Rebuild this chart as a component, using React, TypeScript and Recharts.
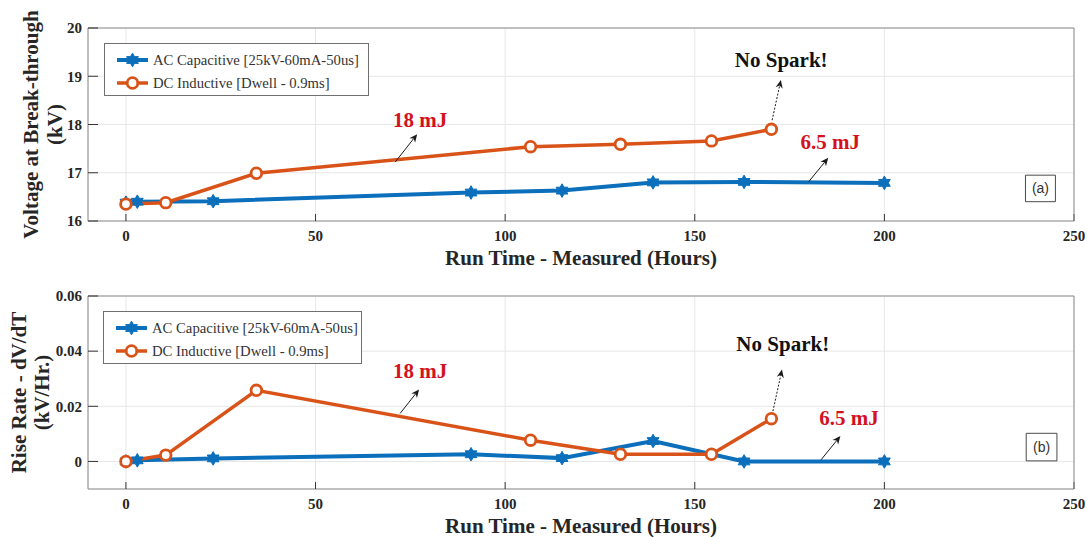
import React from 'react';
import {
  LineChart,
  Line,
  XAxis,
  YAxis,
  CartesianGrid,
  ReferenceLine,
  ReferenceDot,
  ReferenceArea,
  Legend,
} from 'recharts';

const SERIF = '"Liberation Serif", "Times New Roman", Times, serif';
const SANS = '"Liberation Sans", Arial, sans-serif';
const BLUE = '#0b6fbb';
const ORANGE = '#d95319';
const RED = '#d3121f';
const INK = '#262626';

// Run time (hours) of each measurement
const acHours = [0, 3, 23, 91, 115, 139, 163, 200];
const dcHours = [0, 10.5, 34.4, 106.7, 130.4, 154.4, 170.2];

// Break-through voltage (kV)
const acVoltage = [16.38, 16.4, 16.41, 16.59, 16.63, 16.8, 16.81, 16.79];
const dcVoltage = [16.35, 16.38, 16.99, 17.54, 17.59, 17.66, 17.9];

// Rise rate dV/dT (kV/Hr.)
const acRise = [0, 0.0004, 0.0011, 0.0026, 0.0012, 0.0074, 0, 0];
const dcRise = [0, 0.0023, 0.0258, 0.0077, 0.0026, 0.0026, 0.0155];

const xTicks = [0, 50, 100, 150, 200, 250];
const voltTicks = [16, 17, 18, 19, 20];
const riseTicks = [0, 0.02, 0.04, 0.06];

const seriesNames = ['AC Capacitive [25kV-60mA-50us]', 'DC Inductive [Dwell - 0.9ms]'];
const xTitleText = 'Run Time - Measured (Hours)';

type Note = { text: string; x: number; y: number; color: string };
type Arrow = { from: [number, number]; to: [number, number]; dotted: boolean };
type Tag = { text: string; x1: number; x2: number; y1: number; y2: number };

const voltNotes: Note[] = [
  { text: '18 mJ', x: 77.6, y: 18.1, color: RED },
  { text: 'No Spark!', x: 172.8, y: 19.33, color: '#111' },
  { text: '6.5 mJ', x: 185.7, y: 17.63, color: RED },
];
const voltArrows: Arrow[] = [
  { from: [71.0, 17.22], to: [76.8, 17.8], dotted: false },
  { from: [170.4, 18.09], to: [172.7, 18.92], dotted: true },
  { from: [180.0, 16.81], to: [185.2, 17.31], dotted: false },
];
const voltTag: Tag = { text: '(a)', x1: 237.2, x2: 245.1, y1: 16.4, y2: 16.95 };

const riseNotes: Note[] = [
  { text: '18 mJ', x: 77.6, y: 0.0327, color: RED },
  { text: 'No Spark!', x: 173.2, y: 0.0426, color: '#111' },
  { text: '6.5 mJ', x: 190.7, y: 0.0159, color: RED },
];
const riseArrows: Arrow[] = [
  { from: [72.3, 0.0174], to: [77.3, 0.0261], dotted: false },
  { from: [170.6, 0.0182], to: [173.0, 0.0333], dotted: true },
  { from: [183.3, 0.0006], to: [188.4, 0.0092], dotted: false },
];
const riseTag: Tag = { text: '(b)', x1: 237.4, x2: 245.5, y1: 0.0002, y2: 0.0102 };

const toPoints = (xs: number[], ys: number[]) => xs.map((t, i) => ({ t, v: ys[i] }));

const hexagramPoints = (cx: number, cy: number, R: number) => {
  const pts: string[] = [];
  for (let i = 0; i < 12; i++) {
    const r = i % 2 === 0 ? R : R / Math.sqrt(3);
    const a = -Math.PI / 2 + (i * Math.PI) / 6;
    pts.push(`${cx + r * Math.cos(a)},${cy + r * Math.sin(a)}`);
  }
  return pts.join(' ');
};

const hexDot = (props: any) => {
  const { cx, cy, index } = props;
  if (cx == null || cy == null) return <g key={`h${index}`} />;
  return (
    <polygon
      key={`h${index}`}
      points={hexagramPoints(cx, cy, 6.8)}
      fill={BLUE}
      stroke={BLUE}
      strokeWidth={1}
      strokeLinejoin="round"
    />
  );
};

const ringDot = (props: any) => {
  const { cx, cy, index } = props;
  if (cx == null || cy == null) return <g key={`c${index}`} />;
  return <circle key={`c${index}`} cx={cx} cy={cy} r={5.3} fill="#fff" stroke={ORANGE} strokeWidth={2.8} />;
};

const arrowShape = (dotted: boolean) => (p: any) => {
  const { x1, y1, x2, y2 } = p;
  const ang = Math.atan2(y2 - y1, x2 - x1);
  const L = 8;
  const W = 3.6;
  const bx = x2 - L * Math.cos(ang);
  const by = y2 - L * Math.sin(ang);
  const nx = -Math.sin(ang) * W;
  const ny = Math.cos(ang) * W;
  const mx = x2 - L * 0.7 * Math.cos(ang);
  const my = y2 - L * 0.7 * Math.sin(ang);
  return (
    <g>
      <line
        x1={x1}
        y1={y1}
        x2={mx}
        y2={my}
        stroke="#1a1a1a"
        strokeWidth={1}
        strokeDasharray={dotted ? '2 1.6' : undefined}
      />
      <polygon points={`${x2},${y2} ${bx + nx},${by + ny} ${mx},${my} ${bx - nx},${by - ny}`} fill="#1a1a1a" />
    </g>
  );
};

const noteShape = (n: Note) => (p: any) => (
  <text
    x={p.cx}
    y={p.cy + 7}
    textAnchor="middle"
    fill={n.color}
    fontSize={21}
    fontWeight="bold"
    fontFamily={SERIF}
  >
    {n.text}
  </text>
);

const yTitle = (lines: string[], xs: number[]) => (props: any) => {
  const vb = props.viewBox || { x: 0, y: 28, width: 88, height: 193 };
  const cy = vb.y + vb.height / 2;
  return (
    <g>
      {lines.map((t, i) => (
        <text
          key={t}
          x={xs[i]}
          y={cy}
          transform={`rotate(-90 ${xs[i]} ${cy})`}
          textAnchor="middle"
          fill={INK}
          fontSize={21}
          fontWeight="bold"
          fontFamily={SERIF}
        >
          {t}
        </text>
      ))}
    </g>
  );
};

const xTitle = (props: any) => {
  const vb = props.viewBox || { x: 88, y: 221, width: 986, height: 53 };
  return (
    <text
      x={vb.x + vb.width / 2}
      y={vb.y + 44}
      textAnchor="middle"
      fill={INK}
      fontSize={21}
      fontWeight="bold"
      fontFamily={SERIF}
    >
      {xTitleText}
    </text>
  );
};

const LegendBox = ({ width }: { width: number }) => {
  const rows = [
    { name: seriesNames[0], color: BLUE, kind: 'hex', top: 15.7 },
    { name: seriesNames[1], color: ORANGE, kind: 'ring', top: 38.5 },
  ];
  return (
    <div
      style={{
        position: 'relative',
        width,
        height: 53,
        boxSizing: 'border-box',
        border: '1px solid #707070',
        background: '#fff',
        fontFamily: SERIF,
        fontSize: 14.7,
        color: '#333',
      }}
    >
      {rows.map((r) => (
        <div key={r.name} style={{ position: 'absolute', left: 0, top: r.top - 10, height: 20, width: '100%' }}>
          <svg width={46} height={20} style={{ position: 'absolute', left: 0, top: 0 }}>
            <line x1={12} y1={10} x2={43} y2={10} stroke={r.color} strokeWidth={r.kind === 'hex' ? 4 : 3.5} />
            {r.kind === 'hex' ? (
              <polygon points={hexagramPoints(27.5, 10, 6.8)} fill={BLUE} stroke={BLUE} strokeWidth={1} />
            ) : (
              <circle cx={27.5} cy={10} r={5.3} fill="#fff" stroke={ORANGE} strokeWidth={2.8} />
            )}
          </svg>
          <span style={{ position: 'absolute', left: 48, top: 0, lineHeight: '20px', whiteSpace: 'nowrap' }}>
            {r.name}
          </span>
        </div>
      ))}
    </div>
  );
};

type PanelProps = {
  top: number;
  height: number;
  xAxisHeight: number;
  ac: number[];
  dc: number[];
  yDomain: [number, number];
  yTicks: number[];
  yFormat: (v: number) => string;
  yLines: string[];
  yLineXs: number[];
  notes: Note[];
  arrows: Arrow[];
  tag: Tag;
  legendLeft: number;
  legendWidth: number;
};

const tickStyle = { fill: INK, fontSize: 15, fontWeight: 'bold', fontFamily: SERIF };
const boxLine = { stroke: '#8c8c8c', strokeWidth: 1 };
const tickMark = { stroke: '#333', strokeWidth: 1 };

const Panel = (p: PanelProps) => {
  const acData = toPoints(acHours, p.ac);
  const dcData = toPoints(dcHours, p.dc);
  return (
    <div style={{ position: 'absolute', left: 0, top: p.top }}>
      <LineChart width={1087} height={p.height} margin={{ top: 27, right: 12, bottom: 0, left: 0 }}>
        <CartesianGrid stroke="#e7e7e7" strokeWidth={1} />
        <XAxis
          dataKey="t"
          type="number"
          domain={[-10, 250]}
          ticks={xTicks}
          interval={0}
          allowDataOverflow
          height={p.xAxisHeight}
          tickSize={-7}
          tickMargin={16.5}
          axisLine={boxLine}
          tickLine={tickMark}
          tick={tickStyle}
          label={xTitle}
        />
        <XAxis
          xAxisId="top"
          orientation="top"
          dataKey="t"
          type="number"
          domain={[-10, 250]}
          ticks={xTicks}
          interval={0}
          height={1}
          tickSize={-7}
          tick={false}
          axisLine={boxLine}
          tickLine={tickMark}
        />
        <YAxis
          type="number"
          domain={p.yDomain}
          ticks={p.yTicks}
          interval={0}
          allowDataOverflow
          width={88}
          tickSize={-10}
          tickMargin={16}
          tickFormatter={p.yFormat}
          axisLine={boxLine}
          tickLine={tickMark}
          tick={tickStyle}
          label={yTitle(p.yLines, p.yLineXs)}
        />
        <YAxis
          yAxisId="right"
          orientation="right"
          type="number"
          domain={p.yDomain}
          ticks={p.yTicks}
          interval={0}
          width={1}
          tickSize={-10}
          tick={false}
          axisLine={boxLine}
          tickLine={tickMark}
        />
        <Line
          data={acData}
          dataKey="v"
          name={seriesNames[0]}
          stroke={BLUE}
          strokeWidth={4}
          dot={hexDot}
          activeDot={false}
          isAnimationActive={false}
        />
        <Line
          data={dcData}
          dataKey="v"
          name={seriesNames[1]}
          stroke={ORANGE}
          strokeWidth={3.5}
          dot={ringDot}
          activeDot={false}
          isAnimationActive={false}
        />
        {p.arrows.map((a, i) => (
          <ReferenceLine
            key={`a${i}`}
            segment={[
              { x: a.from[0], y: a.from[1] },
              { x: a.to[0], y: a.to[1] },
            ]}
            ifOverflow="visible"
            shape={arrowShape(a.dotted)}
          />
        ))}
        {p.notes.map((n) => (
          <ReferenceDot key={n.text} x={n.x} y={n.y} r={0} ifOverflow="visible" shape={noteShape(n)} />
        ))}
        <ReferenceArea
          x1={p.tag.x1}
          x2={p.tag.x2}
          y1={p.tag.y1}
          y2={p.tag.y2}
          ifOverflow="visible"
          fill="#fff"
          fillOpacity={1}
          stroke="#4a4a4a"
          strokeWidth={1}
          label={{ value: p.tag.text, position: 'center', fill: '#333', fontSize: 14, fontFamily: SANS }}
        />
        <Legend
          layout="vertical"
          align="center"
          verticalAlign="middle"
          wrapperStyle={{ left: p.legendLeft, top: 43, width: p.legendWidth }}
          content={() => <LegendBox width={p.legendWidth} />}
        />
      </LineChart>
    </div>
  );
};

const fmtVolt = (v: number) => String(v);
const fmtRise = (v: number) => (v === 0 ? '0' : v.toFixed(2));

export default function App() {
  return (
    <div
      style={{
        position: 'absolute',
        left: 0,
        top: 0,
        width: 1087,
        height: 537,
        background: '#fff',
        overflow: 'hidden',
      }}
    >
      <Panel
        top={0}
        height={274}
        xAxisHeight={53}
        ac={acVoltage}
        dc={dcVoltage}
        yDomain={[16, 20]}
        yTicks={voltTicks}
        yFormat={fmtVolt}
        yLines={['Voltage at Break-through', '(kV)']}
        yLineXs={[38, 62]}
        notes={voltNotes}
        arrows={voltArrows}
        tag={voltTag}
        legendLeft={104}
        legendWidth={265}
      />
      <Panel
        top={268}
        height={269}
        xAxisHeight={48}
        ac={acRise}
        dc={dcRise}
        yDomain={[-0.01, 0.06]}
        yTicks={riseTicks}
        yFormat={fmtRise}
        yLines={['Rise Rate - dV/dT', '(kV/Hr.)']}
        yLineXs={[26, 48.5]}
        notes={riseNotes}
        arrows={riseArrows}
        tag={riseTag}
        legendLeft={103}
        legendWidth={259}
      />
    </div>
  );
}
